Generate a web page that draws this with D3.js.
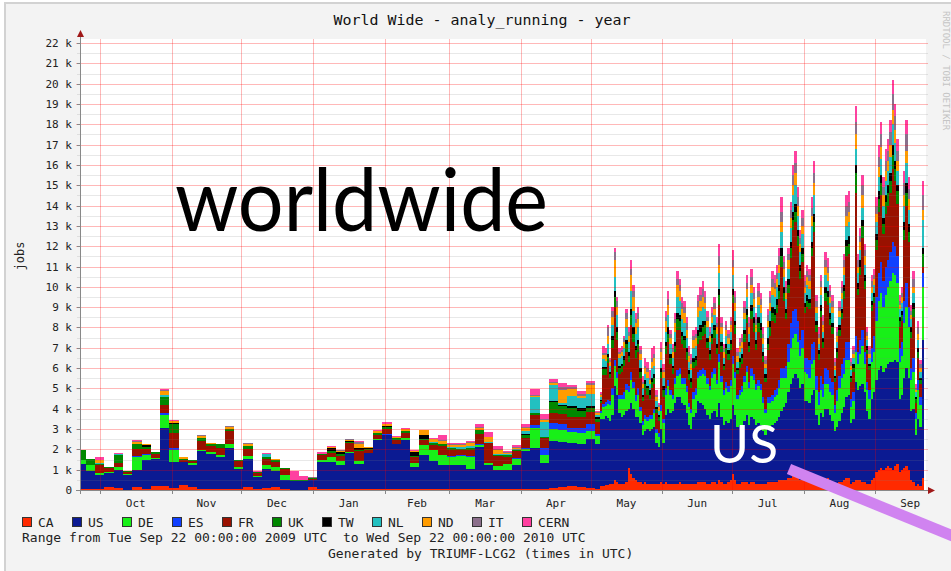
<!DOCTYPE html>
<html><head><meta charset="utf-8">
<script src="https://cdn.jsdelivr.net/npm/d3@7"></script>
<style>html,body{margin:0;padding:0;background:#fff;overflow:hidden}text{white-space:pre}</style>
</head><body>
<svg id="c" width="951" height="571"></svg>
<script>
// ---- data (thousands of jobs) ----
// first 57 values: 4-day bins starting 2009-09-21; next 140 values: daily bins starting 2010-05-05
const seriesNames = ["CA","US","DE","ES","FR","UK","TW","NL","ND","IT","CERN"];
const seriesColors = ["#ff2a00","#0b1a92","#18f018","#1040ff","#991100","#008800","#000000","#22c0c0","#ff9c00","#8b6f8b","#ff40a0"];
const monthLabels = ["Oct","Nov","Dec","Jan","Feb","Mar","Apr","May","Jun","Jul","Aug","Sep"];
const yTickValues = [0,1,2,3,4,5,6,7,8,9,10,11,12,13,14,15,16,17,18,19,20,21,22];

const CA = [.05,.05,.05,.15,.12,.02,.15,.05,.2,.2,.1,.25,.15,.05,.05,.05,.05,.05,.15,.05,.1,.15,.03,.02,.02,.15,.05,.03,.03,.03,.03,.03,.05,.05,.03,.05,.03,.05,.03,.03,.03,.05,.03,.03,.03,.03,.03,.03,.05,.05,.05,.1,.15,.2,.15,.1,.05,
 .2,.2,.25,.25,.3,.3,.5,.4,.3,.3, .3,.4,1.1,.8,.6,.5,.4,.4,.3,.4, .3,.3,.3,.3,.3,.3,.4,.3,.4,.3, .3,.3,.3,.3,.4,.3,.3,.3,.3,.3,
 .3,.3,.4,.4,.4,.4,.3,.3,.4,.4, .3,.5,.4,.3,.3,.4,.5,.8,.5,.3, .3,.4,.4,.4,.3,.4,.4,.3,.3,.3, .3,.3,.4,.4,.4,.4,.4,.5,.5,.5,
 .5,.6,.6,.7,.7,.6,.5,.6,.5,.4, .4,.5,.5,.4,.3,.4,.5,.5,.6,.5, .4,.3,.3,.4,.4,.5,.6,.6,.3,.4, .5,.5,.5,.4,.4,.3,.3,.5,.6,.9,
 1.0,1.1,1.0,1.1,1.2,1.1,1.0,1.2,1.3,.9, 1.0,1.1,1.2,1.0,.5,.4,.2,.3,.2,.6];
const US = [1.25,.9,.7,.7,.88,.7,.85,1.45,1.32,2.85,1.3,1.15,1.1,1.85,1.72,1.55,2.0,1.0,1.4,.6,.92,.8,.45,.43,.4,.35,1.35,1.35,1.2,1.8,1.25,1.8,2.4,2.67,2.25,2.4,1.1,1.65,1.42,1.2,1.2,1.2,1.0,2.1,1.2,.97,.97,1.2,1.85,2.0,1.27,2.3,2.2,2.1,2.1,2.4,2.2,
 3.3,3.3,3.4,3.3,3.1,3.4,4.6,4.3,3.5,3.3, 3.4,3.5,2.9,3.5,3.4,3.1,3.2,2.9,2.4,2.5, 2.7,2.6,2.7,2.8,2.0,1.8,2.6,2.0,3.3,3.7, 3.5,3.6,4.0,4.3,4.2,4.0,3.9,3.5,2.9,2.7,
 3.3,3.5,4.0,3.9,3.8,3.6,3.4,3.2,3.4,3.5, 3.3,3.8,3.2,2.9,3.1,2.9,3.0,3.4,3.2,2.8, 2.9,2.8,3.0,3.3,2.9,3.2,3.1,2.9,3.0,2.9, 2.6,2.4,2.6,2.7,2.8,2.9,3.0,3.1,3.4,3.6,
 3.8,4.2,4.6,4.8,5.0,4.9,4.5,4.6,3.9,4.0, 3.9,4.2,4.4,3.3,2.9,3.4,3.1,3.5,3.4,3.2, 3.0,2.6,2.8,3.0,3.4,3.6,4.0,4.1,3.0,3.1, 4.8,4.4,4.6,4.8,4.4,3.6,3.2,4.0,4.2,4.5,
 4.9,5.0,4.8,4.9,5.0,5.2,5.3,5.2,5.0,3.6, 3.7,4.4,4.8,4.5,3.4,3.6,2.5,3.2,2.9,6.8];
const DE = [.2,.27,.08,.05,.13,.05,.6,.2,.05,.65,.58,0,.08,.05,.08,.1,.2,.1,.1,.05,.22,.2,.25,0,0,0,.1,.23,.2,.05,.17,0,.05,0,0,.1,.2,.5,.52,.5,.4,.4,.6,.1,.1,.2,.3,.3,.1,1.0,.41,.58,.6,.55,.55,.4,.4,
 .3,.6,.5,.7,.8,1.0,1.0,.8,.7,.9, .8,1.0,.8,1.1,1.0,.8,1.1,.6,.5,.6, .4,.6,.5,.7,.5,.5,.9,1.0,1.0,1.1, .9,.6,.9,1.0,1.1,.9,1.0,1.0,.9,.8,
 .9,.9,1.1,1.3,1.5,1.6,1.5,1.4,1.7,1.8, 1.6,2.0,1.7,1.5,1.6,1.5,1.6,2.0,1.8,1.4, 1.5,1.6,1.9,2.1,1.8,2.0,1.9,1.7,1.8,1.7, 1.4,1.1,1.3,1.2,1.2,1.3,1.3,1.4,1.6,1.4,
 1.2,1.5,1.8,2.0,2.0,1.8,1.6,1.8,1.4,1.3, 1.2,1.5,1.5,1.2,1.0,1.1,1.0,1.2,1.2,1.1, 1.3,.9,1.3,1.6,1.7,1.6,1.8,1.7,.8,.9, 1.5,1.3,1.6,1.9,1.4,1.0,1.0,1.8,2.0,2.9,
 3.4,3.6,3.2,3.6,3.8,4.0,4.4,4.2,3.9,1.8, 1.9,2.7,3.0,2.5,1.5,1.8,.8,1.4,1.1,2.6];
const ES = [0,0,0,0,0,0,.05,.05,0,.08,.1,0,0,0,0,0,0,0,0,0,0,0,0,0,0,0,0,0,0,0,0,0,0,.05,0,0,0,0,0,0,.05,.05,.05,.05,0,0,0,.05,.05,.15,.33,.33,.3,.2,.25,.35,.1,
 .1,.15,.2,.2,.2,.3,.3,.3,.2,.2, .3,.3,.3,.4,.3,.3,.3,.2,.2,.2, .2,.2,.2,.2,.2,.2,.3,.2,.3,.3, .2,.2,.3,.3,.3,.3,.3,.3,.2,.2,
 .3,.3,.3,.3,.3,.3,.3,.2,.3,.3, .2,.4,.3,.2,.3,.3,.3,.4,.3,.2, .2,.3,.3,.3,.3,.4,.3,.3,.3,.3, .3,.2,.3,.3,.3,.3,.3,.4,.5,.5,
 .6,.9,1.2,1.3,1.2,1.0,.8,.9,.7,.8, .9,1.0,.9,.7,.6,.7,.6,.8,.7,.7, .6,.4,.5,.6,.7,.8,.9,.9,.4,.4, .8,.6,.7,.8,.6,.4,.4,.7,.8,1.2,
 1.4,1.5,1.3,1.4,1.3,1.4,1.5,1.4,1.3,.7, .7,1.1,1.2,1.0,.6,.7,.3,.5,.4,.7];
const FR = [0,0,.42,.2,.2,.1,.38,.25,.2,.42,.75,.1,.1,.45,.3,.35,.65,.3,.35,.15,.3,.22,.3,0,0,.05,.2,.2,.25,.45,.45,.15,.2,.25,.2,.25,.28,.25,.25,.45,.3,.25,.3,.5,1.0,.45,.3,.35,.5,.5,.5,.5,.5,.55,.55,.6,.6,
 .4,1.4,1.3,1.8,1.1,2.0,2.6,1.6,1.0,1.1, 1.3,1.6,1.2,2.3,2.0,1.8,1.8,1.4,1.0,1.2, 1.1,.8,1.3,1.2,.8,.6,1.3,1.1,1.7,1.9, 1.3,1.0,1.3,2.0,1.9,1.7,1.5,1.3,1.1,1.0,
 1.2,1.1,1.4,1.5,1.6,1.8,1.5,1.3,1.4,1.5, 1.3,2.4,1.2,1.0,1.4,1.3,1.5,2.6,1.9,1.0, 1.1,1.1,1.7,2.1,1.5,2.4,2.1,1.7,2.4,2.3, 1.7,1.3,2.3,3.0,3.6,3.3,3.7,4.0,5.0,3.3,
 2.3,2.5,3.2,4.0,4.3,3.7,3.0,3.3,2.2,2.5, 2.5,4.3,5.4,2.2,1.6,2.9,1.8,3.3,3.2,2.6, 2.4,1.1,1.6,2.0,2.2,2.9,4.2,4.3,.8,1.0, 7.0,2.8,3.2,4.5,3.1,1.4,1.0,1.8,1.6,2.3,
 3.0,3.3,2.3,2.6,2.7,2.9,3.6,3.2,2.6,1.0, 1.0,3.0,3.8,3.2,1.5,2.0,.5,1.1,.6,.3];
const UK = [.45,.3,.05,.05,.37,.08,.25,.1,.08,.38,.4,.05,.05,.15,.12,.2,.1,.05,.15,.05,.1,.1,.04,.05,.05,.03,.05,.1,.1,.05,.08,.05,.1,.1,.1,.1,.05,.08,.1,.1,.08,.08,.1,.15,0,.05,.1,.05,.15,.1,.05,.5,.4,.45,.3,.2,.15,
 .1,.3,.3,.3,.2,.4,.5,.4,.3,.3, .3,.4,.3,.5,.4,.4,.4,.3,.2,.3, .3,.2,.3,.3,.2,.2,.3,.3,.4,.4, .3,.3,.3,.5,.4,.4,.4,.4,.3,.3,
 .3,.3,.4,.4,.4,.4,.3,.3,.3,.4, .3,.5,.3,.2,.3,.3,.3,.4,.4,.2, .3,.3,.4,.4,.3,.4,.4,.3,.4,.4, .3,.2,.3,.4,.4,.4,.4,.4,.5,.4,
 .3,.4,.5,.5,.5,.5,.4,.4,.3,.3, .3,.4,.5,.3,.3,.3,.3,.4,.4,.3, .3,.2,.3,.3,.3,.4,.5,.5,.2,.2, 1.0,.3,.4,.6,.4,.2,.2,.3,.3,.5,
 .6,.6,.5,.6,.6,.6,.7,.6,.6,.3, .3,.5,.6,.5,.3,.4,.2,.3,.2,.6];
const TW = [0,0,0,0,0,0,0,.1,0,0,.05,0,0,0,0,0,0,0,0,0,0,0,0,0,0,.03,0,.15,.1,.03,.1,.05,0,.05,0,0,.2,.2,0,0,0,0,0,0,0,0,0,0,.05,0,0,.05,.05,.1,.15,.1,.1,
 .05,.1,.1,.15,.1,.2,.3,.2,.1,.1, .2,.2,.2,.3,.3,.2,.2,.2,.1,.2, .1,.2,.2,.2,.1,.1,.2,.2,.2,.3, .2,.1,.2,.3,.3,.2,.2,.2,.2,.2,
 .2,.2,.3,.3,.3,.2,.2,.2,.2,.2, .2,.3,.2,.1,.2,.2,.2,.3,.2,.1, .2,.2,.2,.3,.2,.3,.3,.2,.3,.3, .2,.2,.3,.3,.3,.3,.3,.3,.4,.3,
 .2,.3,.3,.4,.4,.3,.3,.3,.2,.3, .2,.3,.4,.2,.2,.3,.2,.3,.3,.3, .2,.1,.2,.2,.2,.3,.3,.4,.1,.2, .4,.3,.3,.3,.3,.2,.1,.2,.2,.3,
 .4,.4,.3,.3,.4,.4,.5,.4,.3,.2, .2,.4,.5,.4,.2,.3,.1,.2,.1,.3];
const NL = [0,0,.05,0,.05,0,0,0,0,.08,0,0,0,0,0,0,0,0,0,0,.15,0,0,0,0,0,0,0,0,0,0,0,0,0,0,0,0,0,.05,0,.05,.1,.1,0,.05,.05,.05,.05,.15,.8,.74,.8,.1,.5,.5,.6,.1,
 .15,.4,.3,.5,.3,.5,.7,.6,.4,.4, .4,.6,.5,.9,.8,.6,.6,.4,.3,.3, .4,.3,.5,.4,.3,.2,.4,.4,.5,.6, .5,.4,.5,.8,.7,.6,.6,.5,.4,.4,
 .5,.5,.6,.7,.7,.6,.5,.4,.5,.5, .5,.8,.4,.3,.4,.3,.4,.7,.5,.3, .3,.3,.5,.6,.4,.6,.5,.4,.6,.5, .4,.3,.5,.5,.6,.6,.6,.6,.8,.5,
 .5,.5,.7,.8,.9,.7,.6,.7,.5,.5, .5,.8,.9,.4,.3,.5,.3,.6,.5,.5, .5,.3,.3,.4,.5,.5,.7,.7,.3,.3, .8,.5,.5,.6,.5,.3,.3,.4,.4,.6,
 .7,.8,.6,.7,.7,.8,1.0,.9,.7,.4, .4,.8,1.0,.7,.4,.5,.2,.4,.3,1.4];
const ND = [0,0,.12,0,0,0,.1,.05,0,.2,.12,.05,0,.1,.05,.03,.1,0,.1,0,0,.05,0,0,0,0,0,.07,.05,.07,.2,.05,.1,.1,.05,.1,.08,.2,.12,.15,.1,.1,.15,.1,.25,.2,.05,.05,.15,.05,.1,.1,.6,.3,.1,.4,.1,
 .1,.2,.3,.4,.2,.4,.8,.4,.2,.2, .3,.4,.3,.8,.7,.5,.4,.3,.2,.3, .3,.2,.3,.4,.2,.2,.4,.3,.5,.5, .3,.3,.4,.6,.5,.5,.5,.4,.3,.3,
 .4,.4,.5,.5,.5,.3,.3,.3,.3,.3, .3,.4,.3,.3,.3,.3,.3,.4,.4,.3, .3,.3,.3,.4,.3,.4,.4,.3,.4,.4, .3,.2,.3,.4,.4,.4,.4,.4,.5,.4,
 .3,.4,.5,.5,.6,.5,.4,.4,.3,.4, .4,.5,.6,.3,.3,.4,.3,.4,.4,.3, .3,.2,.3,.3,.3,.4,.5,.5,.2,.2, .7,.3,.4,.6,.4,.2,.2,.3,.3,.4,
 .5,.6,.5,.5,.5,.6,.7,.6,.5,.2, .3,.5,.6,.5,.2,.3,.1,.3,.2,.5];
const IT = [0,0,0,0,0,0,.05,0,0,.05,0,0,0,.05,0,0,.05,0,.05,0,0,0,0,0,0,.02,0,0,.05,.05,.1,0,0,0,0,0,0,0,.03,.05,.04,.05,.05,.05,0,.05,.05,.05,.05,.05,.05,.05,.15,.1,.1,.1,.05,
 .05,.1,.1,.4,.1,.3,.4,.3,.1,.1, .2,.3,.2,.3,.3,.2,.3,.2,.1,.1, .2,.1,.2,.2,.1,.1,.2,.1,.2,.3, .2,.2,.2,.3,.3,.3,.3,.3,.2,.2,
 .2,.2,.3,.3,.4,.3,.2,.2,.2,.3, .2,.4,.2,.2,.2,.2,.2,.3,.3,.2, .2,.2,.3,.3,.2,.4,.3,.3,.3,.3, .2,.2,.3,.3,.4,.3,.3,.4,.5,.3,
 .3,.3,.4,.5,.5,.4,.3,.4,.3,.3, .3,.4,.5,.3,.2,.3,.2,.3,.3,.3, .3,.2,.2,.2,.3,.3,.5,.5,.2,.2, .6,.3,.3,.5,.3,.2,.2,.3,.2,.4,
 .5,.6,.4,.5,.5,.6,.8,.7,.5,.2, .2,.6,.8,.5,.2,.4,.1,.3,.2,.7];
const CERN = [0,0,.13,0,.05,0,.05,0,0,.05,.05,0,0,0,0,0,0,0,0,.05,.05,0,0,.45,.23,0,.1,.03,0,0,.05,0,.05,.08,.05,.05,.03,.03,.03,.25,.05,.03,.03,.15,.22,.15,.05,.07,.15,.25,.25,.15,.2,.1,.1,.1,.05,
 .05,.35,.25,.1,.1,.2,.2,.2,.2,.2, .1,.2,.2,.4,.3,.3,.3,.2,.3,.4, .3,.4,.5,.4,.2,.1,.3,.3,.3,.4, .2,.2,.3,.4,.3,.3,.3,.3,.3,.3,
 .3,.3,.3,.4,.4,.3,.3,.2,.3,.3, .3,.6,.3,.2,.2,.2,.2,.5,.3,.2, .2,.2,.3,.4,.3,.4,.3,.3,.4,.3, .3,.2,.3,.3,.4,.4,.4,.4,.7,.3,
 .3,.3,.4,.5,.6,.5,.4,.4,.3,.3, .3,.5,.6,.3,.3,.3,.3,.4,.4,.3, .3,.2,.2,.3,.3,.3,.5,.5,.2,.2, .8,.3,.4,.5,.3,.2,.2,.3,.3,.4,
 .6,.6,.5,.6,.6,.6,.7,.6,.6,.3, .3,.6,.7,.6,.3,.4,.2,.3,.2,.7];

const seriesValues = {CA, US, DE, ES, FR, UK, TW, NL, ND, IT, CERN};
const EARLY_BINS = 57, DAILY_BINS = 140;

// ---- build time bins ----
const earlyStart = new Date(Date.UTC(2009, 8, 21));
const dailyStart = new Date(Date.UTC(2010, 4, 5));
const tStart = new Date(Date.UTC(2009, 8, 22));
const tEnd = new Date(Date.UTC(2010, 8, 22));
const binStarts = [];
for (let k = 0; k < EARLY_BINS; k++) binStarts.push(d3.utcDay.offset(earlyStart, 4 * k));
for (let i = 0; i < DAILY_BINS; i++) binStarts.push(d3.utcDay.offset(dailyStart, i));

const rows = binStarts.map((t, i) => {
  const r = {t};
  seriesNames.forEach(n => r[n] = seriesValues[n][i]);
  return r;
});
const last = Object.assign({}, rows[rows.length - 1], {t: tEnd});
rows.push(last);

// ---- layout ----
const svg = d3.select("#c");
const W = 951, H = 571;
const x = d3.scaleUtc().domain([tStart, tEnd]).range([79, 924]);
const y = d3.scaleLinear().domain([0, 22.2]).range([490, 39]);
const mono = "'DejaVu Sans Mono', monospace";

// frame background
svg.append("rect").attr("x", 0).attr("y", 0).attr("width", W).attr("height", H).attr("fill", "#ffffff");
svg.append("rect").attr("x", 4).attr("y", 3).attr("width", W - 4).attr("height", H - 3).attr("fill", "#f3f3f3");
svg.append("line").attr("x1", 4).attr("x2", W).attr("y1", 3).attr("y2", 3).attr("stroke", "#d2d2d2").attr("stroke-width", 2);
svg.append("line").attr("x1", 5).attr("x2", 5).attr("y1", 3).attr("y2", H).attr("stroke", "#d2d2d2").attr("stroke-width", 2);

// plot background
svg.append("rect").attr("x", 80).attr("y", 39).attr("width", 846).attr("height", 451).attr("fill", "#ffffff");

// clip
svg.append("clipPath").attr("id", "clip").append("rect").attr("x", 80).attr("y", 39).attr("width", 844).attr("height", 451);

// stacked areas
const stack = d3.stack().keys(seriesNames)(rows);
const area = d3.area()
  .x(d => x(d.data.t))
  .y0(d => y(d[0]))
  .y1(d => y(d[1]))
  .curve(d3.curveStepAfter);
const g = svg.append("g").attr("clip-path", "url(#clip)");
stack.forEach((s, i) => {
  g.append("path").attr("d", area(s)).attr("fill", seriesColors[i]).attr("shape-rendering", "crispEdges");
});

// grid (drawn on top, semi-transparent)
const grid = svg.append("g").attr("shape-rendering", "crispEdges");
d3.range(0.5, 22.2, 1).forEach(v => {
  grid.append("line").attr("x1", 77).attr("x2", 928).attr("y1", Math.round(y(v)) + 0.5).attr("y2", Math.round(y(v)) + 0.5)
    .attr("stroke", "rgba(130,130,130,0.18)");
});
yTickValues.forEach(v => {
  if (v === 0) return;
  grid.append("line").attr("x1", 76).attr("x2", 928).attr("y1", Math.round(y(v)) + 0.5).attr("y2", Math.round(y(v)) + 0.5)
    .attr("stroke", "rgba(255,0,0,0.28)");
});
const monthStarts = d3.utcMonth.range(new Date(Date.UTC(2009, 9, 1)), new Date(Date.UTC(2010, 8, 2)));
monthStarts.forEach(m => {
  const xx = Math.round(x(m)) + 0.5;
  grid.append("line").attr("x1", xx).attr("x2", xx).attr("y1", 39).attr("y2", 493).attr("stroke", "rgba(255,0,0,0.28)");
});

// axes
const ax = svg.append("g").attr("shape-rendering", "crispEdges");
ax.append("line").attr("x1", 80.5).attr("x2", 80.5).attr("y1", 36).attr("y2", 494).attr("stroke", "#888");
ax.append("line").attr("x1", 76).attr("x2", 929).attr("y1", 490.5).attr("y2", 490.5).attr("stroke", "#888");
yTickValues.forEach(v => {
  ax.append("line").attr("x1", 77).attr("x2", 80).attr("y1", Math.round(y(v)) + 0.5).attr("y2", Math.round(y(v)) + 0.5).attr("stroke", "#888");
});
monthStarts.forEach(m => {
  const xx = Math.round(x(m)) + 0.5;
  ax.append("line").attr("x1", xx).attr("x2", xx).attr("y1", 490).attr("y2", 494).attr("stroke", "#888");
});
svg.append("path").attr("d", "M77,37 L80.5,30 L84,37 Z").attr("fill", "#a01818");
svg.append("path").attr("d", "M928,487 L935,490.5 L928,494 Z").attr("fill", "#a01818");

// y tick labels
svg.append("g").selectAll("text").data(yTickValues).join("text")
  .attr("x", 72).attr("y", d => y(d) + 4)
  .attr("text-anchor", "end").attr("font-family", mono).attr("font-size", 11).attr("fill", "#222")
  .text(d => d === 0 ? "0" : d + " k");

// month labels (centered mid-month)
svg.append("g").selectAll("text").data(monthStarts).join("text")
  .attr("x", (m) => (x(m) + x(d3.utcMonth.offset(m, 1))) / 2)
  .attr("y", 507)
  .attr("text-anchor", "middle").attr("font-family", mono).attr("font-size", 11).attr("fill", "#222")
  .text((m, i) => monthLabels[i]);

// title
svg.append("text").attr("x", 482).attr("y", 25).attr("text-anchor", "middle")
  .attr("font-family", mono).attr("font-size", 14).attr("fill", "#111")
  .attr("textLength", 297).attr("lengthAdjust", "spacingAndGlyphs")
  .text("World Wide - analy_running - year");

// y label
svg.append("text").attr("transform", "translate(24,256) rotate(-90)").attr("text-anchor", "middle")
  .attr("font-family", mono).attr("font-size", 12).attr("fill", "#222").text("jobs");

// watermark
svg.append("text").attr("transform", "translate(943,11) rotate(90)")
  .attr("font-family", mono).attr("font-size", 9).attr("fill", "#c4c4c4").text("RRDTOOL / TOBI OETIKER");

// legend
const lg = svg.append("g");
seriesNames.forEach((n, i) => {
  const lx = 22 + i * 50;
  lg.append("rect").attr("x", lx + 0.5).attr("y", 517.5).attr("width", 9).attr("height", 9)
    .attr("fill", seriesColors[i]).attr("stroke", "#333").attr("stroke-width", 1);
  lg.append("text").attr("x", lx + 16).attr("y", 526.5)
    .attr("font-family", mono).attr("font-size", 13).attr("fill", "#222").text(n);
});
svg.append("text").attr("x", 22).attr("y", 542).attr("font-family", mono).attr("font-size", 13).attr("fill", "#222")
  .text("Range from Tue Sep 22 00:00:00 2009 UTC  to Wed Sep 22 00:00:00 2010 UTC");
svg.append("text").attr("x", 328).attr("y", 558).attr("font-family", mono).attr("font-size", 13).attr("fill", "#222")
  .text("Generated by TRIUMF-LCG2 (times in UTC)");

// annotations
svg.append("text").attr("x", 175).attr("y", 231)
  .attr("font-family", "Lato, 'Open Sans', sans-serif").attr("font-size", 88).attr("fill", "#000")
  .attr("textLength", 373).attr("lengthAdjust", "spacingAndGlyphs").text("worldwide");
svg.append("text").attr("x", 710).attr("y", 463)
  .attr("font-family", "Lato, 'Open Sans', sans-serif").attr("font-size", 53).attr("fill", "#fff")
  .attr("textLength", 68).attr("lengthAdjust", "spacingAndGlyphs").text("US");
svg.append("line").attr("x1", 789).attr("y1", 469).attr("x2", 960).attr("y2", 539)
  .attr("stroke", "#d083f0").attr("stroke-width", 11);
</script>
</body></html>
